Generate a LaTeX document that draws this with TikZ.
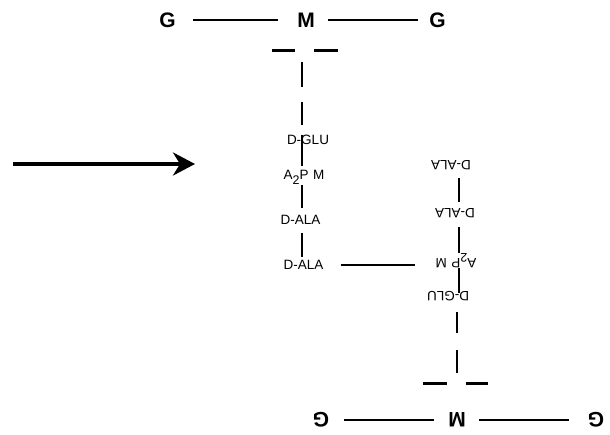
\documentclass[tikz,border=0pt]{standalone}
\usepackage{fontspec}
\setmainfont{Liberation Sans}
\usetikzlibrary{arrows.meta}
\tikzset{
  big/.style={font=\fontsize{21}{21}\selectfont\bfseries, inner sep=0pt, text height=15pt, text depth=0pt},
  lab/.style={font=\fontsize{13.5}{14}\selectfont, inner sep=0pt, text height=9.7pt, text depth=0pt},
  bond/.style={line width=2pt},
  chain/.style={line width=2pt},
  bar/.style={line width=3pt},
  flip/.style={rotate=180}
}
\newcommand{\atwopm}{A\raisebox{-5pt}{\fontsize{12.5}{13}\selectfont 2}P\,\,M}
\begin{document}
\begin{tikzpicture}[x=1pt,y=-1pt]
\useasboundingbox (0,0) rectangle (610,434);

% ---------- upper strand ----------
\node[big] (G1) at (167.5,19.5) {G};
\node[big] (M1) at (306,19.5) {M};
\node[big] (G2) at (437.5,19.5) {G};
\draw[bond, shorten <=17.5pt, shorten >=19pt] (G1) -- (M1);
\draw[bond, shorten <=13pt, shorten >=11pt] (M1) -- (G2);

\coordinate (axL) at (302,0);
\coordinate (b1a) at (272,50); \coordinate (b1b) at (295,50);
\coordinate (b2a) at (314,50); \coordinate (b2b) at (338,50);
\draw[bar] (b1a) -- (b1b);
\draw[bar] (b2a) -- (b2b);
\coordinate (v1a) at (302,62); \coordinate (v1b) at (302,87);
\coordinate (v2a) at (302,102); \coordinate (v2b) at (302,125);
\draw[chain] (v1a) -- (v1b);
\draw[chain] (v2a) -- (v2b);

\node[lab] (DGLU) at (308,140) {D-GLU};
\node[lab] (A2PM) at (304,175) {\atwopm};
\node[lab] (DALA1) at (300.5,220) {D-ALA};
\node[lab] (DALA2) at (303.5,265) {D-ALA};
\draw[chain, shorten >=4pt] (DGLU.north -| axL) -- (A2PM.north -| axL);
\draw[chain, shorten <=5pt, shorten >=7pt] (A2PM.south -| axL) -- (DALA1.north -| axL);
\draw[chain, shorten <=8pt, shorten >=3pt] (DALA1.south -| axL) -- (DALA2.north -| axL);

% ---------- lower strand (upside down) ----------
\node[big, flip] (G3) at (321,420) {G};
\node[big, flip] (M2) at (457,420) {M};
\node[big, flip] (G4) at (596,420) {G};
\draw[bond, shorten <=15pt, shorten >=14pt] (G3) -- (M2);
\draw[bond, shorten <=13pt, shorten >=19pt] (M2) -- (G4);

\coordinate (axR) at (459,0);
\coordinate (b3a) at (423,383); \coordinate (b3b) at (447,383);
\coordinate (b4a) at (466,383); \coordinate (b4b) at (488,383);
\draw[bar] (b3a) -- (b3b);
\draw[bar] (b4a) -- (b4b);
\coordinate (v3a) at (457,312); \coordinate (v3b) at (457,333);
\coordinate (v4a) at (457,350); \coordinate (v4b) at (457,373);
\draw[chain] (v3a) -- (v3b);
\draw[chain] (v4a) -- (v4b);

\node[lab, flip] (RDALA1) at (451,165) {D-ALA};
\node[lab, flip] (RDALA2) at (455,213) {D-ALA};
\node[lab, flip] (RA2PM) at (456,263) {\atwopm};
\node[lab, flip] (RDGLU) at (448,296) {D-GLU};
\draw[chain, shorten <=13pt, shorten >=11pt] (RDALA1.center -| axR) -- (RDALA2.center -| axR);
\draw[chain, shorten <=14pt, shorten >=10pt] (RDALA2.center -| axR) -- (RA2PM.center -| axR);
\draw[chain, shorten <=5pt, shorten >=3pt] (RA2PM.center -| axR) -- (RDGLU.center -| axR);

% ---------- cross-link ----------
\draw[bond, shorten <=17pt, shorten >=41pt] (DALA2.east) -- (DALA2.east -| RA2PM.center);

% ---------- arrow ----------
\coordinate (ar0) at (13,164);
\coordinate (ar1) at (195,164);
\draw[line width=4.5pt, -{Stealth[length=22pt, width=23pt, inset=7pt]}] (ar0) -- (ar1);
\end{tikzpicture}
\end{document}
